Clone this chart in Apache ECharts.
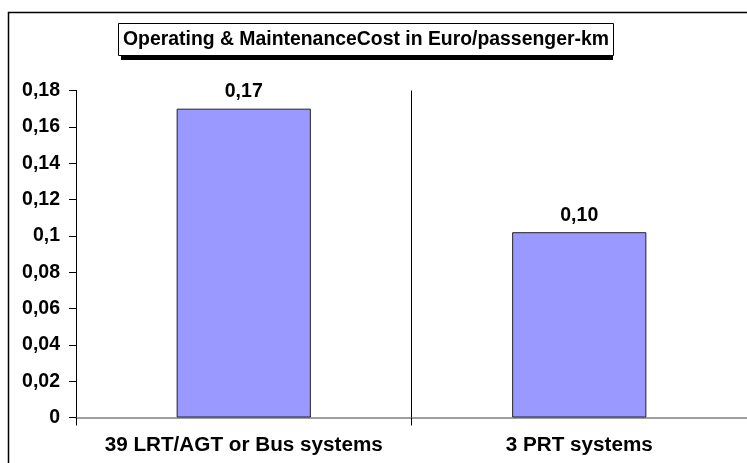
<!DOCTYPE html>
<html>
<head>
<meta charset="utf-8">
<script src="https://cdn.jsdelivr.net/npm/echarts@6/dist/echarts.min.js"></script>
<style>html,body{margin:0;padding:0;background:#fff}#c{width:747px;height:463px}</style>
</head>
<body>
<div id="c"></div>
<script>
const titleText = 'Operating & MaintenanceCost in Euro/passenger-km';
const categories = ['39 LRT/AGT or Bus systems', '3 PRT systems'];
const costValues = [0.17, 0.102];
const yMin = 0, yMax = 0.18, yStep = 0.02;

const FONT = '"Liberation Sans", Arial, sans-serif';
const chart = echarts.init(document.getElementById('c'), null, {renderer: 'canvas'});
chart.setOption({
  animation: false,
  backgroundColor: '#fff',
  title: {
    text: titleText,
    left: 118, top: 23,
    padding: [7, 5],
    backgroundColor: '#fff',
    borderColor: '#000',
    borderWidth: 1,
    textStyle: {fontFamily: FONT, fontWeight: 'bold', fontSize: 19.4, color: '#000'}
  },
  graphic: [
    {type: 'rect', z: -1, shape: {x: 8.5, y: 12.5, width: 800, height: 500},
     style: {fill: 'none', stroke: '#000', lineWidth: 1.5}},
    {type: 'rect', z: 1, shape: {x: 121, y: 26, width: 492, height: 34},
     style: {fill: '#000'}}
  ],
  grid: {left: 76, top: 90.5, width: 675, height: 327, containLabel: false},
  xAxis: {
    type: 'category',
    data: categories,
    boundaryGap: true,
    axisLine: {lineStyle: {color: '#808080', width: 1.5}},
    axisTick: {show: true, interval: 0, length: 8, lineStyle: {color: '#000'}},
    splitLine: {show: true, interval: 0, lineStyle: {color: '#000', width: 1}},
    axisLabel: {interval: 0, margin: 17, fontFamily: FONT, fontWeight: 'bold', fontSize: 20.7, color: '#000'}
  },
  yAxis: {
    type: 'value',
    min: yMin, max: yMax, interval: yStep,
    axisLine: {show: true, lineStyle: {color: '#000', width: 1}},
    axisTick: {show: true, length: 7, lineStyle: {color: '#000'}},
    splitLine: {show: false},
    axisLabel: {
      margin: 16, fontFamily: FONT, fontWeight: 'bold', fontSize: 19.5, color: '#000',
      formatter: v => parseFloat(v.toFixed(2)).toString().replace('.', ',')
    }
  },
  series: [{
    type: 'bar',
    data: costValues,
    barWidth: '40%',
    itemStyle: {color: '#9999FF', borderColor: '#222', borderWidth: 1},
    label: {
      show: true, position: 'top', distance: 7,
      fontFamily: FONT, fontWeight: 'bold', fontSize: 19.5, color: '#000',
      formatter: p => p.value.toFixed(2).replace('.', ',')
    }
  }]
});
</script>
</body>
</html>
